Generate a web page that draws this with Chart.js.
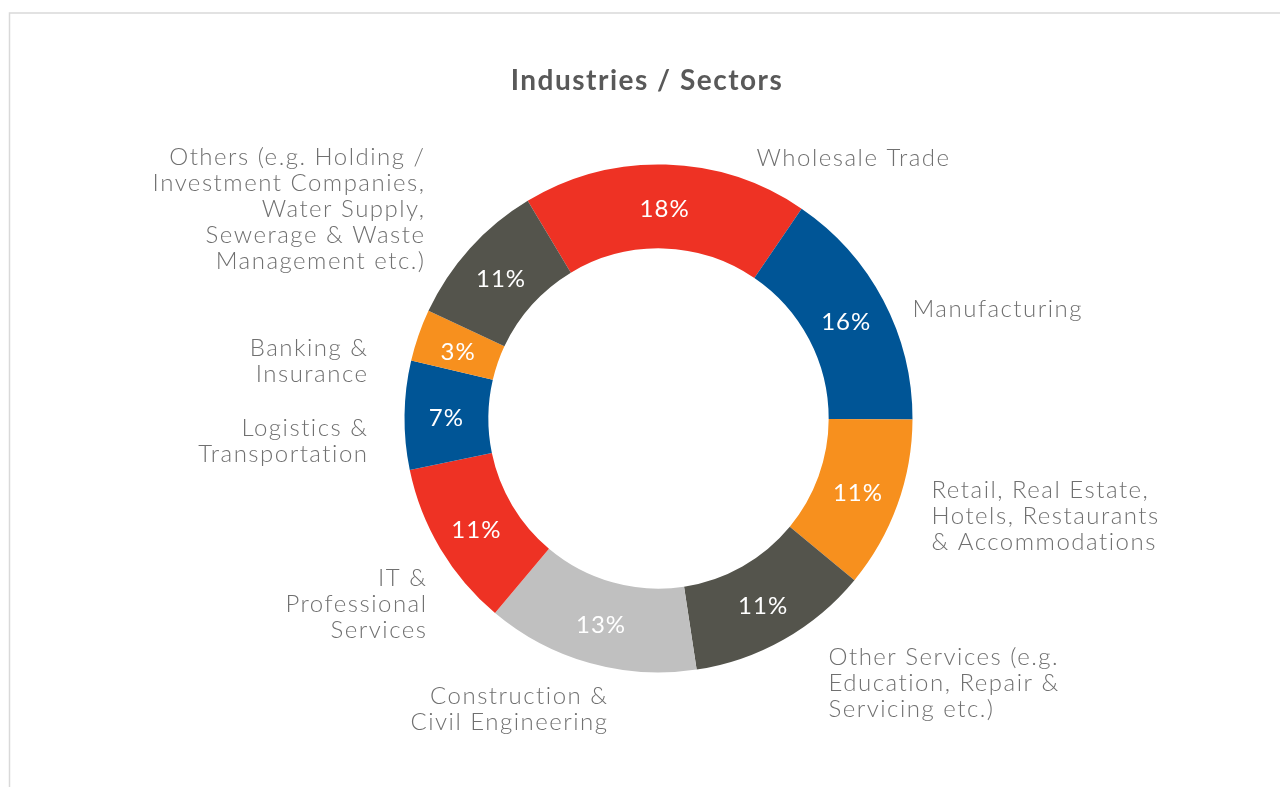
<!DOCTYPE html>
<html>
<head>
<meta charset="utf-8">
<script src="https://cdn.jsdelivr.net/npm/chart.js@4.4.1/dist/chart.umd.min.js"></script>
<style>
  html, body { margin: 0; padding: 0; background: #fff; }
  #wrap { width: 1280px; height: 787px; position: relative; }
</style>
</head>
<body>
<div id="wrap"><canvas id="sectorChart"></canvas></div>
<script>
// categories (multi-line, as printed on the chart)
const sectors = [
  ['Wholesale Trade'],
  ['Manufacturing'],
  ['Retail, Real Estate,', 'Hotels, Restaurants', '& Accommodations'],
  ['Other Services (e.g.', 'Education, Repair &', 'Servicing etc.)'],
  ['Construction &', 'Civil Engineering'],
  ['IT &', 'Professional', 'Services'],
  ['Logistics &', 'Transportation'],
  ['Banking &', 'Insurance'],
  ['Others (e.g. Holding /', 'Investment Companies,', 'Water Supply,', 'Sewerage & Waste', 'Management etc.)']
];
// arc sizes as drawn in the picture (%)
const shares = [18.1, 15.5, 10.9, 11.6, 13.5, 10.6, 6.9, 3.3, 9.4];
// percentage labels printed in each slice
const pctLabels = ['18%', '16%', '11%', '11%', '13%', '11%', '7%', '3%', '11%'];
const sliceColors = ['#EE3224', '#005596', '#F7901E', '#54544C', '#C0C0C0', '#EE3224', '#005596', '#F7901E', '#54544C'];

// outside label placement relative to the doughnut centre: [dx, dy of first line, align]
const labelLayout = [
  [98, -260, 'left'],
  [254, -109, 'left'],
  [273, 72, 'left'],
  [170, 239, 'left'],
  [-50, 278, 'right'],
  [-231, 160, 'right'],
  [-290, 10, 'right'],
  [-290, -70, 'right'],
  [-233, -261, 'right']
];

const lineH = 26;

const sectorLabels = {
  id: 'sectorLabels',
  beforeDraw(chart) {
    const ctx = chart.ctx;
    ctx.save();
    ctx.strokeStyle = '#d9d9d9';
    ctx.lineWidth = 1.5;
    ctx.beginPath();
    ctx.moveTo(1280, 13);
    ctx.lineTo(9.5, 13);
    ctx.lineTo(9.5, 787);
    ctx.stroke();
    // title
    ctx.fillStyle = '#595959';
    ctx.font = 'bold 28px Lato';
    ctx.letterSpacing = '1.5px';
    ctx.textAlign = 'center';
    ctx.textBaseline = 'middle';
    ctx.fillText('Industries / Sectors', 647, 81);
    ctx.restore();
  },
  afterDatasetsDraw(chart) {
    const ctx = chart.ctx;
    const meta = chart.getDatasetMeta(0);
    ctx.save();
    ctx.textBaseline = 'middle';
    meta.data.forEach((arc, i) => {
      // value inside the ring
      const p = arc.tooltipPosition();
      ctx.fillStyle = '#ffffff';
      ctx.font = '400 24px Lato';
      ctx.letterSpacing = '1px';
      ctx.textAlign = 'center';
      ctx.fillText(pctLabels[i], p.x, p.y + 3);
      // category outside the ring
      const [dx, dy, align] = labelLayout[i];
      ctx.fillStyle = '#707070';
      ctx.font = '300 24px Lato';
      ctx.letterSpacing = '1.5px';
      ctx.textAlign = align;
      chart.data.labels[i].forEach((line, j) => {
        ctx.fillText(line, arc.x + dx, arc.y + dy + j * lineH);
      });
    });
    ctx.restore();
  }
};

const ctx = document.getElementById('sectorChart').getContext('2d');
new Chart(ctx, {
  type: 'doughnut',
  data: {
    labels: sectors,
    datasets: [{
      data: shares,
      backgroundColor: sliceColors,
      borderWidth: 0,
      hoverOffset: 0
    }]
  },
  options: {
    responsive: true,
    maintainAspectRatio: false,
    animation: false,
    rotation: -31,
    cutout: '67%',
    layout: {
      padding: { top: 164.5, bottom: 114.5, left: 404.5, right: 367.5 }
    },
    plugins: {
      legend: { display: false },
      tooltip: { enabled: false },
      title: { display: false }
    },
    events: []
  },
  plugins: [sectorLabels]
});
</script>
</body>
</html>
